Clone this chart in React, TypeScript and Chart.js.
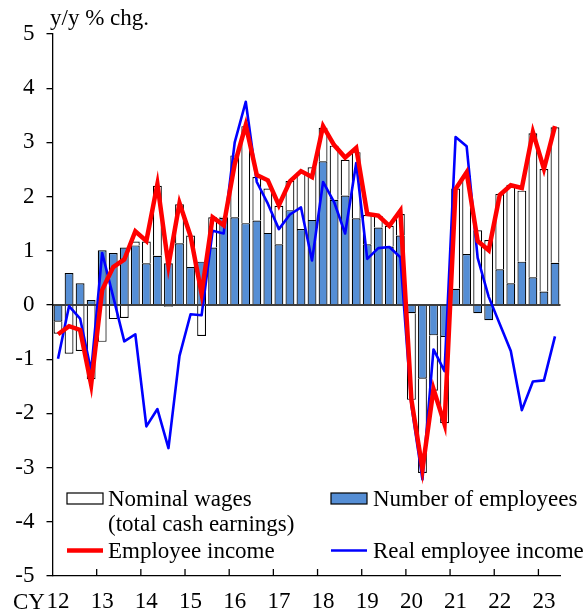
import React, { useEffect, useRef } from 'react';
import { Chart, registerables } from 'chart.js';

Chart.register(...registerables);

const QUARTERS = [
  '2012Q1', '2012Q2', '2012Q3', '2012Q4',
  '2013Q1', '2013Q2', '2013Q3', '2013Q4',
  '2014Q1', '2014Q2', '2014Q3', '2014Q4',
  '2015Q1', '2015Q2', '2015Q3', '2015Q4',
  '2016Q1', '2016Q2', '2016Q3', '2016Q4',
  '2017Q1', '2017Q2', '2017Q3', '2017Q4',
  '2018Q1', '2018Q2', '2018Q3', '2018Q4',
  '2019Q1', '2019Q2', '2019Q3', '2019Q4',
  '2020Q1', '2020Q2', '2020Q3', '2020Q4',
  '2021Q1', '2021Q2', '2021Q3', '2021Q4',
  '2022Q1', '2022Q2', '2022Q3', '2022Q4',
  '2023Q1', '2023Q2',
];

const YEAR_LABELS = ['12', '13', '14', '15', '16', '17', '18', '19', '20', '21', '22', '23'];

const NUMBER_OF_EMPLOYEES = [
  -0.31, 0.59, 0.40, 0.09,
  1.01, 0.96, 1.06, 1.10,
  0.77, 0.91, 0.77, 1.14,
  0.70, 0.80, 1.06, 1.61,
  1.62, 1.51, 1.56, 1.33,
  1.12, 1.75, 1.40, 1.57,
  2.65, 1.94, 2.02, 1.60,
  1.12, 1.43, 1.08, 1.28,
  -0.15, -1.36, -0.56, -0.59,
  0.30, 0.94, -0.15, -0.28,
  0.66, 0.40, 0.80, 0.51,
  0.25, 0.78,
];

const NOMINAL_WAGES = [
  -0.22, -0.90, -0.85, -1.37,
  -0.68, -0.26, -0.24, 0.07,
  0.40, 1.29, -0.03, 0.72,
  0.58, -0.57, 0.56, 0.02,
  1.14, 1.79, 0.80, 0.82,
  0.71, 0.54, 1.05, 0.97,
  0.62, 1.00, 0.66, 1.22,
  0.54, 0.21, 0.38, 0.40,
  -1.60, -1.74, -1.02, -1.59,
  1.85, 1.45, 1.38, 1.20,
  1.39, 1.82, 1.31, 2.66,
  2.26, 2.50,
];

const EMPLOYEE_INCOME = [
  -0.54, -0.39, -0.46, -1.47,
  0.28, 0.70, 0.84, 1.36,
  1.18, 2.23, 0.73, 1.88,
  1.27, 0.21, 1.62, 1.47,
  2.60, 3.32, 2.40, 2.30,
  1.84, 2.28, 2.47, 2.36,
  3.30, 2.95, 2.72, 2.90,
  1.68, 1.65, 1.46, 1.74,
  -1.75, -3.03, -1.55, -2.20,
  2.14, 2.45, 1.18, 1.01,
  2.03, 2.21, 2.16, 3.19,
  2.51, 3.30,
];

const REAL_EMPLOYEE_INCOME = [
  -0.99, -0.02, -0.25, -1.22,
  0.96, 0.15, -0.67, -0.54,
  -2.24, -1.92, -2.64, -0.94,
  -0.17, -0.19, 1.37, 1.32,
  3.00, 3.75, 2.27, 1.87,
  1.40, 1.67, 1.80, 0.82,
  2.27, 1.90, 1.32, 2.62,
  0.85, 1.05, 1.07, 0.88,
  -1.85, -3.22, -0.82, -1.22,
  3.10, 2.93, 0.87, 0.15,
  -0.35, -0.85, -1.94, -1.41,
  -1.39, -0.58,
];

const SERIES_NAMES = ['Employee income', 'Real employee income', 'Number of employees', 'Nominal wages'];
const WAGES_LEGEND_LINES = ['Nominal wages', '(total cash earnings)'];
const Y_TITLE = 'y/y % chg.';
const X_PREFIX = 'CY';

const FONT_FAMILY = '"Liberation Serif", "Times New Roman", serif';
const FONT = `23px ${FONT_FAMILY}`;
const BAR_BLUE = 'rgb(85,142,213)';
const RED = '#ff0000';
const BLUE = '#0000ff';

const decorPlugin = {
  id: 'decor',
  afterDatasetDraw(chart: any, args: any) {
    if (args.index !== 2) return;
    const { ctx, chartArea, scales } = chart;
    const y0 = scales.y.getPixelForValue(0);
    ctx.save();
    ctx.strokeStyle = '#000';
    ctx.lineWidth = 1.3;
    ctx.beginPath();
    ctx.moveTo(chartArea.left, y0);
    ctx.lineTo(chartArea.right, y0);
    ctx.stroke();
    ctx.restore();
  },
  afterDraw(chart: any) {
    const { ctx, chartArea, scales } = chart;
    const xs = scales.x;
    ctx.save();
    ctx.strokeStyle = '#000';
    ctx.lineWidth = 1.3;
    for (let k = 1; k < YEAR_LABELS.length; k++) {
      const x = (xs.getPixelForValue(4 * k - 1) + xs.getPixelForValue(4 * k)) / 2;
      ctx.beginPath();
      ctx.moveTo(x, chartArea.bottom);
      ctx.lineTo(x, chartArea.bottom - 7);
      ctx.stroke();
    }
    ctx.fillStyle = '#000';
    ctx.font = FONT;
    ctx.textAlign = 'left';
    ctx.textBaseline = 'alphabetic';
    ctx.fillText(Y_TITLE, 50, 25);
    ctx.fillText(X_PREFIX, 13, 608.5);

    const lx1 = 67, lw = 36, tx1 = 108;
    const lx2 = 331, tx2 = 373;
    const b1 = 505.5, b2 = 531, b3 = 557.5;
    ctx.fillStyle = '#fff';
    ctx.fillRect(lx1, 493, lw, 11);
    ctx.strokeStyle = '#000';
    ctx.lineWidth = 1.2;
    ctx.strokeRect(lx1, 493, lw, 11);
    ctx.fillStyle = BAR_BLUE;
    ctx.fillRect(lx2, 493, lw, 11);
    ctx.strokeRect(lx2, 493, lw, 11);
    ctx.strokeStyle = RED;
    ctx.lineWidth = 4.5;
    ctx.beginPath();
    ctx.moveTo(lx1, 550.5);
    ctx.lineTo(lx1 + lw, 550.5);
    ctx.stroke();
    ctx.strokeStyle = BLUE;
    ctx.lineWidth = 2.6;
    ctx.beginPath();
    ctx.moveTo(lx2, 550.5);
    ctx.lineTo(lx2 + lw, 550.5);
    ctx.stroke();

    ctx.fillStyle = '#000';
    ctx.fillText(WAGES_LEGEND_LINES[0], tx1, b1);
    ctx.fillText(WAGES_LEGEND_LINES[1], tx1, b2);
    ctx.fillText(SERIES_NAMES[0], tx1, b3);
    ctx.fillText(SERIES_NAMES[2], tx2, b1);
    ctx.fillText(SERIES_NAMES[1], tx2, b3);
    ctx.restore();
  },
};

export default function App() {
  const ref = useRef<HTMLCanvasElement>(null);

  useEffect(() => {
    document.body.style.margin = '0';
    Chart.defaults.font.family = FONT_FAMILY;
    const chart = new Chart(ref.current as HTMLCanvasElement, {
      type: 'bar',
      data: {
        labels: QUARTERS,
        datasets: [
          {
            type: 'line',
            label: SERIES_NAMES[0],
            data: EMPLOYEE_INCOME,
            borderColor: RED,
            backgroundColor: RED,
            borderWidth: 4.5,
            pointRadius: 0,
            tension: 0,
            stack: 'red',
            order: 0,
          } as any,
          {
            type: 'line',
            label: SERIES_NAMES[1],
            data: REAL_EMPLOYEE_INCOME,
            borderColor: BLUE,
            backgroundColor: BLUE,
            borderWidth: 2.6,
            borderJoinStyle: 'round',
            pointRadius: 0,
            tension: 0,
            stack: 'blue',
            order: 0,
          } as any,
          {
            type: 'bar',
            label: SERIES_NAMES[2],
            data: NUMBER_OF_EMPLOYEES,
            backgroundColor: BAR_BLUE,
            borderColor: '#000',
            borderWidth: 1.2,
            stack: 'bars',
            order: 1,
            barPercentage: 0.8,
            categoryPercentage: 1.0,
          },
          {
            type: 'bar',
            label: SERIES_NAMES[3],
            data: NOMINAL_WAGES,
            backgroundColor: '#ffffff',
            borderColor: '#000',
            borderWidth: 1.2,
            stack: 'bars',
            order: 1,
            barPercentage: 0.8,
            categoryPercentage: 1.0,
          },
        ],
      },
      options: {
        animation: false,
        responsive: false,
        devicePixelRatio: 1,
        layout: { padding: { top: 34, right: 23.5, left: 0, bottom: 0 } },
        plugins: {
          legend: { display: false },
          tooltip: { enabled: false },
        },
        scales: {
          x: {
            stacked: true,
            offset: true,
            grid: { display: false, drawTicks: false },
            border: { display: true, color: '#000', width: 1.3 },
            ticks: {
              autoSkip: false,
              maxRotation: 0,
              minRotation: 0,
              padding: 12,
              color: '#000',
              font: { size: 23, family: FONT_FAMILY },
              callback: (_v: any, i: number) => (i % 4 === 0 ? YEAR_LABELS[i / 4] : ''),
            },
            afterFit: (scale: any) => {
              scale.height = 36;
            },
          },
          y: {
            stacked: true,
            min: -5,
            max: 5,
            grid: {
              display: true,
              drawOnChartArea: false,
              drawTicks: true,
              tickLength: 6,
              color: '#000',
              tickColor: '#000',
              lineWidth: 1.3,
            },
            border: { display: true, color: '#000', width: 1.3 },
            ticks: {
              stepSize: 1,
              padding: 12,
              color: '#000',
              font: { size: 23, family: FONT_FAMILY },
            },
            afterFit: (scale: any) => {
              scale.width = 52.5;
            },
          },
        },
      },
      plugins: [decorPlugin],
    });
    return () => chart.destroy();
  }, []);

  return (
    <div style={{ width: 584, height: 612 }}>
      <canvas ref={ref} width={584} height={612} style={{ display: 'block' }} />
    </div>
  );
}
